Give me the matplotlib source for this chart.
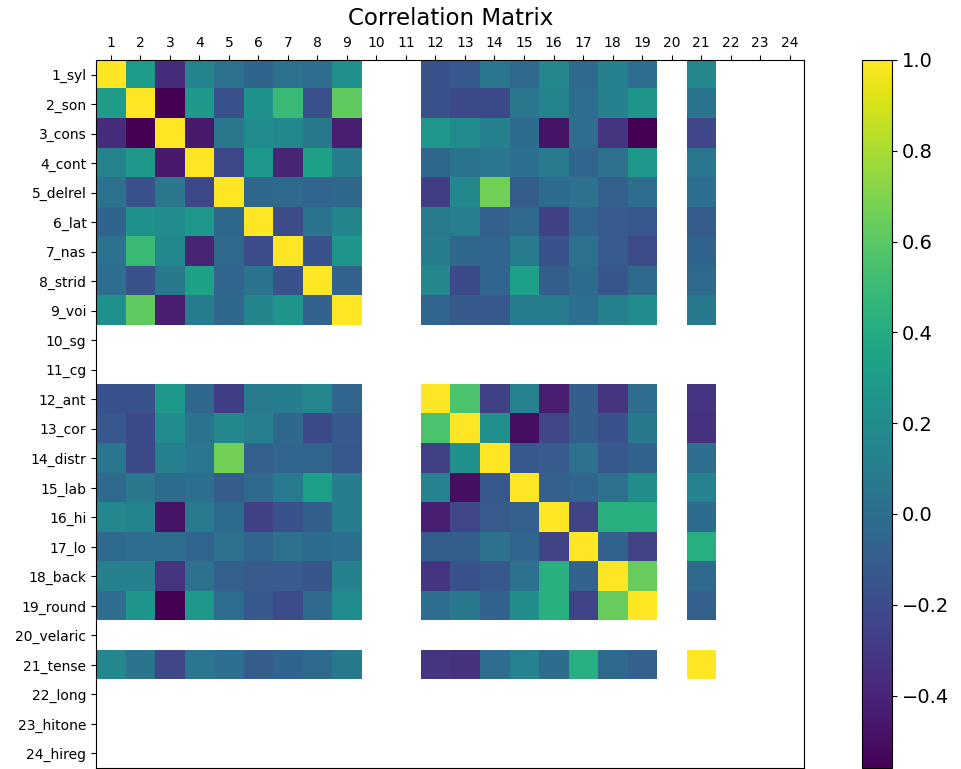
import numpy as np
import matplotlib
matplotlib.use("Agg")
import matplotlib.pyplot as plt

# feature names, in column order
features = ["1_syl", "2_son", "3_cons", "4_cont", "5_delrel", "6_lat", "7_nas",
            "8_strid", "9_voi", "10_sg", "11_cg", "12_ant", "13_cor", "14_distr",
            "15_lab", "16_hi", "17_lo", "18_back", "19_round", "20_velaric",
            "21_tense", "22_long", "23_hitone", "24_hireg"]

# features that have non-constant values (the others give NaN correlations)
valid = ["1_syl", "2_son", "3_cons", "4_cont", "5_delrel", "6_lat", "7_nas",
         "8_strid", "9_voi", "12_ant", "13_cor", "14_distr", "15_lab", "16_hi",
         "17_lo", "18_back", "19_round", "21_tense"]

# lower triangle of the correlation matrix over the valid features
lower = [
    [],
    [0.30],
    [-0.36, -0.56],
    [0.14, 0.28, -0.45],
    [0.03, -0.17, 0.06, -0.22],
    [-0.06, 0.24, 0.20, 0.27, -0.04],
    [0.02, 0.49, 0.17, -0.40, -0.02, -0.20],
    [0.00, -0.17, 0.07, 0.33, -0.05, 0.04, -0.17],
    [0.22, 0.62, -0.43, 0.10, -0.03, 0.15, 0.26, -0.07],
    [-0.17, -0.17, 0.27, -0.04, -0.27, 0.09, 0.10, 0.16, -0.05],
    [-0.13, -0.21, 0.20, 0.04, 0.17, 0.11, -0.04, -0.21, -0.12, 0.56],
    [0.05, -0.21, 0.12, 0.05, 0.67, -0.08, -0.05, -0.05, -0.13, -0.25, 0.23],
    [-0.02, 0.06, -0.01, 0.01, -0.10, -0.02, 0.09, 0.32, 0.10, 0.13, -0.50, -0.13],
    [0.16, 0.14, -0.47, 0.08, -0.01, -0.25, -0.17, -0.09, 0.10, -0.43, -0.23, -0.11, -0.08],
    [-0.02, 0.00, 0.00, -0.05, 0.02, -0.05, 0.03, -0.01, 0.01, -0.09, -0.09, 0.02, -0.05, -0.24],
    [0.12, 0.12, -0.32, 0.02, -0.08, -0.11, -0.11, -0.14, 0.12, -0.32, -0.17, -0.13, 0.03, 0.43, -0.07],
    [0.00, 0.26, -0.56, 0.27, 0.00, -0.13, -0.20, -0.02, 0.20, 0.00, 0.07, -0.07, 0.21, 0.43, -0.24, 0.64],
    [0.16, 0.04, -0.23, 0.05, 0.01, -0.10, -0.06, -0.02, 0.07, -0.32, -0.34, 0.00, 0.13, -0.01, 0.42, -0.02, -0.08],
]

# build the full 24x24 matrix, NaN where a feature is constant
n = len(features)
corr = np.full((n, n), np.nan)
idx = [features.index(f) for f in valid]
for i, row in enumerate(lower):
    corr[idx[i], idx[i]] = 1.0
    for j, v in enumerate(row):
        corr[idx[i], idx[j]] = v
        corr[idx[j], idx[i]] = v

fig = plt.figure(figsize=(9.61, 7.69), dpi=100)
ax = fig.add_axes([0.099, 0.001, 0.739, 0.921])
im = ax.matshow(corr, cmap="viridis")

ax.set_xticks(range(n))
ax.set_xticklabels([str(i + 1) for i in range(n)], fontsize=10)
ax.set_yticks(range(n))
ax.set_yticklabels(features, fontsize=10)
ax.set_title("Correlation Matrix", fontsize=16.5, pad=25)

cax = fig.add_axes([0.897, 0.001, 0.031, 0.921])
cb = fig.colorbar(im, cax=cax)
cb.ax.tick_params(labelsize=14)

fig.savefig("out.png", dpi=100)
